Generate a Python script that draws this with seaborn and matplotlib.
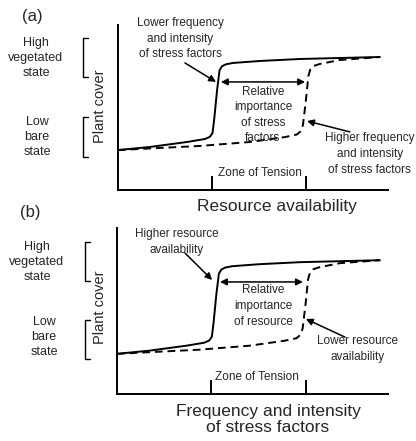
import matplotlib
matplotlib.use("Agg")
import matplotlib.pyplot as plt
import seaborn as sns
from matplotlib.lines import Line2D

# curve shapes (axis units 0..10)
solid_x = [0, 1.19, 2.56, 3.22, 3.40, 3.50, 3.56, 3.67, 3.76, 3.85, 4.0, 4.26, 5.26, 6.74, 8.22, 9.70]
solid_y = [2.42, 2.61, 2.91, 3.09, 3.22, 3.45, 4.24, 6.06, 7.25, 7.50, 7.62, 7.70, 7.82, 7.94, 8.00, 8.06]
dashed_x = [0, 1.56, 3.04, 4.89, 6.19, 6.62, 6.76, 6.85, 6.96, 7.05, 7.12, 7.25, 7.48, 8.22, 9.70]
dashed_y = [2.42, 2.55, 2.67, 2.91, 3.21, 3.36, 3.55, 3.94, 5.45, 6.90, 7.30, 7.52, 7.64, 7.88, 8.06]
zone_ticks = [3.48, 6.96]

panels = ["(a)", "(b)"]
xlabels = ["Resource availability", "Frequency and intensity\nof stress factors"]
upper_notes = ["Lower frequency\nand intensity\nof stress factors", "Higher resource\navailability"]
lower_notes = ["Higher frequency\nand intensity\nof stress factors", "Lower resource\navailability"]
middle_notes = ["Relative\nimportance\nof stress\nfactors", "Relative\nimportance\nof resource"]

sns.set_style("white")
plt.rcParams["font.family"] = ["Liberation Sans", "DejaVu Sans"]

W, H = 416, 441
fig = plt.figure(figsize=(W / 100, H / 100), dpi=100)


def fx(px):
    return px / W


def fy(py):
    return 1 - py / H


# axes boxes in pixels: left, top, right, bottom
boxes = [(118, 25, 388, 190), (117, 228, 388, 394)]
# layout of the texts, per panel
layout = [
    dict(tag=(32, 17), high=(36, 58), low=(37, 137), brk=(83, 38, 77, 117, 157), cover=(100, 106),
         up=(2.30, 9.18), up_tail=(2.48, 7.70), up_head=(3.63, 6.55),
         dbl=(3.81, 6.93, 6.55), mid=(5.37, 4.55),
         lo=(9.33, 2.18), lo_tail=(8.59, 3.52), lo_head=(7.0, 4.18),
         zone=(5.26, 1.03), xl=(5.89, -1.03)),
    dict(tag=(30, 213), high=(37, 262), low=(44, 337), brk=(85, 242, 281, 320, 359), cover=(100, 307),
         up=(2.21, 9.16), up_tail=(2.51, 8.49), up_head=(3.51, 6.87),
         dbl=(3.80, 6.86, 6.75), mid=(5.39, 5.30),
         lo=(8.86, 2.71), lo_tail=(8.41, 3.43), lo_head=(6.97, 4.52),
         zone=(5.17, 1.02), xl=(5.57, -1.54)),
]

fs = 8.5
ls = 1.4
arrow = dict(arrowstyle="-|>", color="black", lw=1.1, mutation_scale=10, shrinkA=0, shrinkB=0)
for i in range(2):
    l, t, r, b = boxes[i]
    L = layout[i]
    ax = fig.add_axes([fx(l), fy(b), fx(r - l), (b - t) / H])
    sns.lineplot(x=solid_x, y=solid_y, ax=ax, color="black", lw=1.4, sort=False, estimator=None)
    sns.lineplot(x=dashed_x, y=dashed_y, ax=ax, color="black", lw=1.4, sort=False, estimator=None,
                 linestyle=(0, (4, 2.5)))
    ax.set_xlim(0, 10)
    ax.set_ylim(0, 10)
    sns.despine(ax=ax)
    for s in ["left", "bottom"]:
        ax.spines[s].set_color("black")
        ax.spines[s].set_linewidth(1.4)
    ax.set_yticks([])
    ax.set_xticks(zone_ticks)
    ax.set_xticklabels([])
    ax.tick_params(axis="x", bottom=True, direction="in", length=10, width=1.4, color="black")

    # notes and arrows
    ax.text(*L["up"], upper_notes[i], ha="center", va="center", fontsize=fs, linespacing=ls,
            clip_on=False)
    ax.annotate("", xy=L["up_head"], xytext=L["up_tail"], arrowprops=arrow)
    ax.text(*L["lo"], lower_notes[i], ha="center", va="center", fontsize=fs, linespacing=ls,
            clip_on=False)
    ax.annotate("", xy=L["lo_head"], xytext=L["lo_tail"], arrowprops=arrow)
    x0, x1, yd = L["dbl"]
    ax.annotate("", xy=(x1, yd), xytext=(x0, yd),
                arrowprops=dict(arrowstyle="<|-|>", color="black", lw=1.1, mutation_scale=10,
                                shrinkA=0, shrinkB=0))
    ax.text(*L["mid"], middle_notes[i], ha="center", va="center", fontsize=fs, linespacing=ls)
    ax.text(*L["zone"], "Zone of Tension", ha="center", va="center", fontsize=fs)
    ax.text(*L["xl"], xlabels[i], ha="center", va="center", fontsize=12.5, linespacing=1.15, clip_on=False)

    # labels left of the axis
    fig.text(fx(L["tag"][0]), fy(L["tag"][1]), panels[i], ha="center", va="center", fontsize=12)
    fig.text(fx(L["high"][0]), fy(L["high"][1]), "High\nvegetated\nstate", ha="center", va="center",
             fontsize=9, linespacing=1.3)
    fig.text(fx(L["low"][0]), fy(L["low"][1]), "Low\nbare\nstate", ha="center", va="center",
             fontsize=9, linespacing=1.3)
    fig.text(fx(L["cover"][0]), fy(L["cover"][1]), "Plant cover", rotation=90, ha="center", va="center",
             fontsize=10.5)
    bx, h0, h1, l0, l1 = L["brk"]
    for y0, y1 in [(h0, h1), (l0, l1)]:
        fig.add_artist(Line2D([fx(bx + 5), fx(bx), fx(bx), fx(bx + 5)], [fy(y0), fy(y0), fy(y1), fy(y1)],
                              color="black", lw=1.0))

fig.savefig("out.png", dpi=100)
